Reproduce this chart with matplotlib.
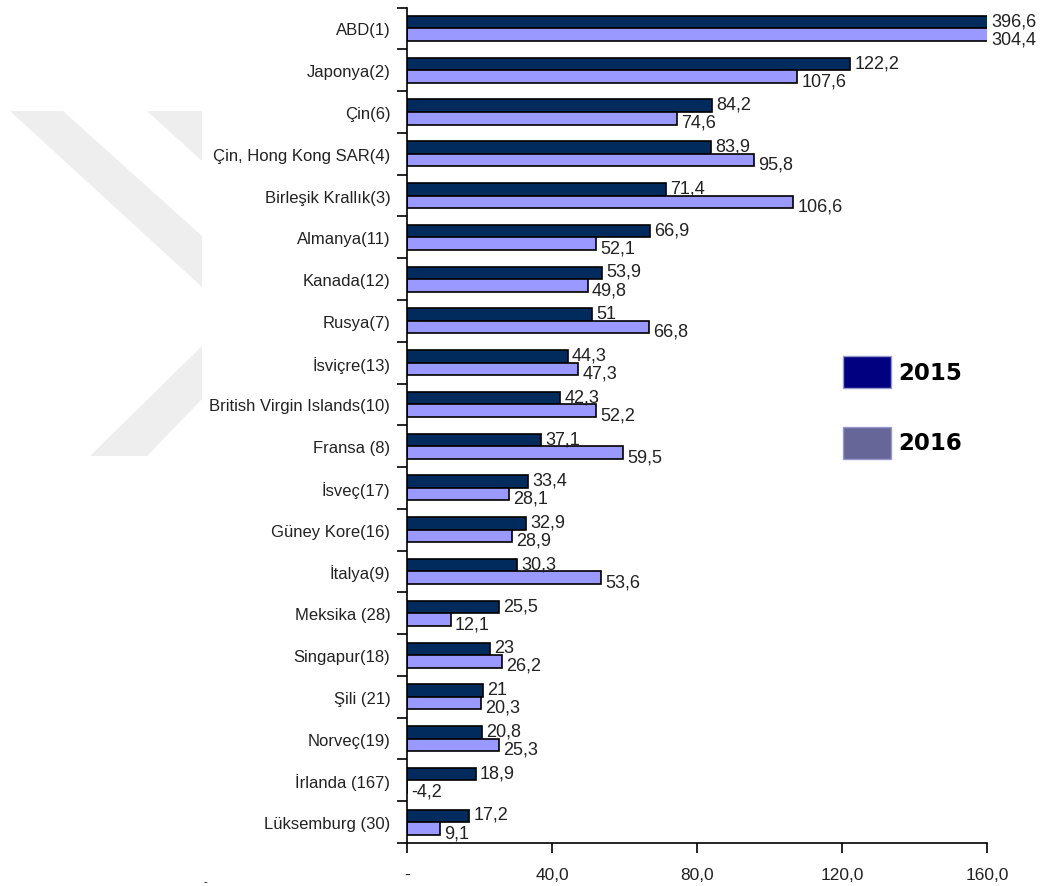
import matplotlib
matplotlib.use("Agg")
import matplotlib.pyplot as plt
from matplotlib.patches import Polygon, Rectangle
from matplotlib.ticker import FuncFormatter
import numpy as np

countries = [
    "ABD(1)", "Japonya(2)", "Çin(6)", "Çin, Hong Kong SAR(4)", "Birleşik Krallık(3)",
    "Almanya(11)", "Kanada(12)", "Rusya(7)", "İsviçre(13)", "British Virgin Islands(10)",
    "Fransa (8)", "İsveç(17)", "Güney Kore(16)", "İtalya(9)", "Meksika (28)",
    "Singapur(18)", "Şili (21)", "Norveç(19)", "İrlanda (167)", "Lüksemburg (30)",
]
v2015 = [396.6, 122.2, 84.2, 83.9, 71.4, 66.9, 53.9, 51, 44.3, 42.3,
         37.1, 33.4, 32.9, 30.3, 25.5, 23, 21, 20.8, 18.9, 17.2]
v2016 = [304.4, 107.6, 74.6, 95.8, 106.6, 52.1, 49.8, 66.8, 47.3, 52.2,
         59.5, 28.1, 28.9, 53.6, 12.1, 26.2, 20.3, 25.3, -4.2, 9.1]
years = ["2015", "2016"]
xticks = [0, 40, 80, 120, 160]

plt.rcParams['font.family'] = ['Liberation Sans', 'DejaVu Sans']

W, H = 1050, 887
fig = plt.figure(figsize=(W / 100, H / 100), dpi=100)

# pixel coords (top-left origin) -> figure fraction
def px(pts):
    return [(x / W, 1 - y / H) for x, y in pts]

# faint watermark shapes behind the chart
wm = "#eeeeee"
for pts in [
    [(10, 112), (63, 112), (202, 237), (202, 288)],
    [(147, 112), (202, 112), (202, 162)],
    [(202, 347), (202, 400), (147, 457), (90, 457)],
]:
    fig.add_artist(Polygon(px(pts), closed=True, facecolor=wm, edgecolor="none", zorder=0))

ax = fig.add_axes([407 / W, 1 - 844 / H, (987 - 407) / W, (844 - 8.6) / H])
ax.patch.set_alpha(0)

xmax = 160
y = np.arange(len(countries))
h = 0.3
ax.barh(y - h / 2, v2015, height=h, color="#002b5c", edgecolor="black", linewidth=1.2)
ax.barh(y + h / 2, v2016, height=h, color="#9999ff", edgecolor="black", linewidth=1.2)

def fmt(v):
    s = f"{v:.1f}".replace(".", ",")
    if s.endswith(",0"):
        s = s[:-2]
    return s

for i in range(len(countries)):
    for vals, dy, off in [(v2015, -h / 2, 1), (v2016, h / 2, -3)]:
        v = vals[i]
        xpos = min(max(v, 0), xmax)
        ax.annotate(fmt(v), (xpos, i + dy), xytext=(3, off), textcoords="offset points",
                    va="center", ha="left", fontsize=13, color="#222222",
                    annotation_clip=False)

ax.set_xlim(0, xmax)
ax.set_ylim(len(countries) - 0.5, -0.5)
ax.set_xticks(xticks)
ax.xaxis.set_major_formatter(FuncFormatter(lambda v, p: "-" if v == 0 else f"{v:.1f}".replace(".", ",")))
ax.set_yticks(y)
ax.set_yticklabels(countries, fontsize=12, color="#222222")
ax.set_yticks(np.arange(len(countries) + 1) - 0.5, minor=True)
ax.tick_params(axis="y", which="major", length=0, pad=12)
ax.tick_params(axis="y", which="minor", length=7, width=1.2, direction="out")
ax.tick_params(axis="x", length=7, width=1.2, direction="out", labelsize=12.5, pad=10)
for lbl in ax.get_xticklabels():
    lbl.set_color("#222222")
for s in ["top", "right"]:
    ax.spines[s].set_visible(False)
for s in ["left", "bottom"]:
    ax.spines[s].set_linewidth(1.2)

# legend drawn by hand to match the reference layout
legend_colors = ["#000080", "#666699"]
for (top, bottom), col, lab in zip([(357, 389), (428, 460)], legend_colors, years):
    (x0, y0), = px([(843, bottom)])
    fig.add_artist(Rectangle((x0, y0), 48 / W, (bottom - top) / H,
                             facecolor=col, edgecolor="#9999cc", linewidth=1))
    fig.text(898 / W, 1 - (top + bottom) / 2 / H, lab, fontsize=16.5, fontweight="bold",
             family=["DejaVu Sans"], va="center", ha="left")

fig.text(205 / W, 1 - 882 / H, "-", fontsize=8, ha="center", va="center")

fig.savefig("out.png", dpi=100)
